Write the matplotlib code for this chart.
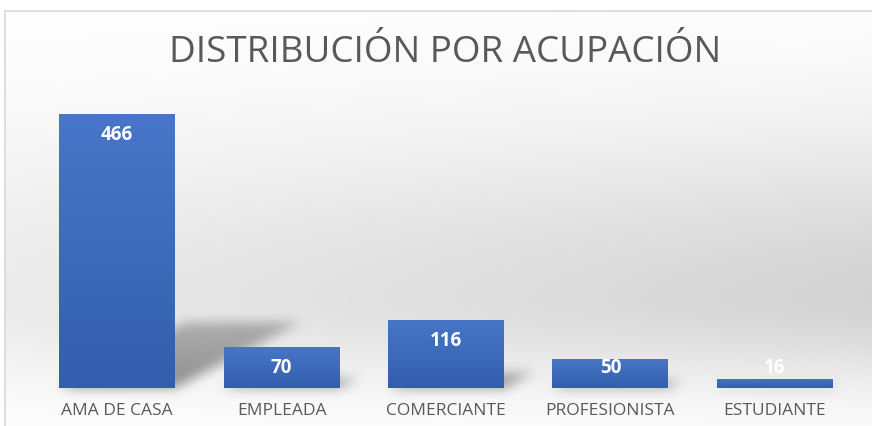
import numpy as np
import matplotlib
matplotlib.use("Agg")
import matplotlib.pyplot as plt
from matplotlib.path import Path

categories = ["AMA DE CASA", "EMPLEADA", "COMERCIANTE", "PROFESIONISTA", "ESTUDIANTE"]
values = [466, 70, 116, 50, 16]
title = "DISTRIBUCIÓN POR ACUPACIÓN"

plt.rcParams['font.family'] = ['Open Sans', 'DejaVu Sans']

W, H = 872, 426
fig = plt.figure(figsize=(W / 100, H / 100), dpi=100)

# background axes (pixel coordinates, y down)
bg = fig.add_axes([0, 0, 1, 1], zorder=0)
bg.set_xlim(0, W)
bg.set_ylim(H, 0)
bg.axis('off')

# main axes
ax = fig.add_axes([35 / W, 38 / H, 822 / W, 294 / H], zorder=1)
ax.patch.set_visible(False)
x = np.arange(len(categories))
ax.set_xlim(-0.5, len(categories) - 0.5)
ax.set_ylim(0, 500)
for s in ax.spines.values():
    s.set_visible(False)
ax.set_yticks([])
ax.set_xticks(x)
ax.set_xticklabels(categories, fontsize=12.5, color='#595959')
ax.tick_params(axis='x', length=0, pad=10.5)

bar_w = 0.705
bars = ax.bar(x, values, width=bar_w, color='#3F69B8', zorder=3)

# gradient fill in bars
top_c = np.array([0x48, 0x76, 0xC8]) / 255
bot_c = np.array([0x33, 0x5E, 0xAD]) / 255
for b, v in zip(bars, values):
    g = np.linspace(0, 1, 64)[:, None]
    img = top_c[None, None, :] * (1 - g[..., None]) + bot_c[None, None, :] * g[..., None]
    img = np.repeat(img, 2, axis=1)
    x0 = b.get_x()
    im = ax.imshow(img, extent=(x0, x0 + bar_w, 0, v), aspect='auto', zorder=4,
                   origin='upper', interpolation='bilinear')
    im.set_clip_path(b)
ax.set_xlim(-0.5, len(categories) - 0.5)
ax.set_ylim(0, 500)

# background gradient
yy, xx = np.mgrid[0:H, 0:W].astype(float)
sig = np.where(yy < 300, 170.0, 85.0)
dark = 0.17 * np.exp(-((yy - 300) / sig) ** 2) * (0.45 + 0.55 * xx / W)
grad = 1 - dark

# shadows (perspective, computed from data coords)
def box_blur(a, r):
    for axis in (0, 1):
        c = np.cumsum(np.pad(a, [(r + 1, r) if i == axis else (0, 0) for i in range(2)], mode='edge'), axis=axis)
        if axis == 0:
            a = (c[2 * r + 1:, :] - c[:-2 * r - 1, :]) / (2 * r + 1)
        else:
            a = (c[:, 2 * r + 1:] - c[:, :-2 * r - 1]) / (2 * r + 1)
    return a

mask = np.zeros((H, W))
pts = np.column_stack([xx.ravel() + 0.5, (H - yy.ravel() - 0.5)])
for b, v in zip(bars, values):
    x0 = b.get_x()
    x1 = x0 + bar_w
    dx = 0.76 * v / 466
    hs = 0.24 * v
    poly = [(x0, 0), (x1, 0), (x1 + dx, hs), (x0 + dx, hs)]
    disp = ax.transData.transform(poly)
    p = Path(disp)
    inside = p.contains_points(pts).reshape(H, W).astype(float)
    base_px = ax.transData.transform((0, 0))[1]
    hpx = max(disp[2][1] - base_px, 1)
    fade = np.clip(1 - 0.4 * ((H - yy) - base_px) / hpx, 0, 1)
    mask = np.maximum(mask, inside * fade)
for _ in range(3):
    mask = box_blur(mask, 5)
grad = grad * (1 - 0.42 * mask)

img = np.dstack([grad, grad, grad])
img[:11, :, :] = 1.0
img[:, :5, :] = 1.0
bg.imshow(img, extent=(0, W, H, 0), aspect='auto', interpolation='bilinear')
bg.plot([5, 5], [H, 11], color='#d9d9d9', lw=1.2)
bg.plot([5, W], [11, 11], color='#d9d9d9', lw=1.2)
bg.set_xlim(0, W)
bg.set_ylim(H, 0)

# data labels
px_per_unit = 294 / 500
for xi, v in zip(x, values):
    yl = max(v - 21 / px_per_unit, 20 / px_per_unit)
    ax.text(xi, yl, str(v), ha='center', va='center', color='white',
            fontsize=13.5, fontweight='bold', zorder=6)

fig.text(445 / W, 1 - 53 / H, title, ha='center', va='center', fontsize=26.5,
         color='#595959')

fig.savefig('out.png', dpi=100)
